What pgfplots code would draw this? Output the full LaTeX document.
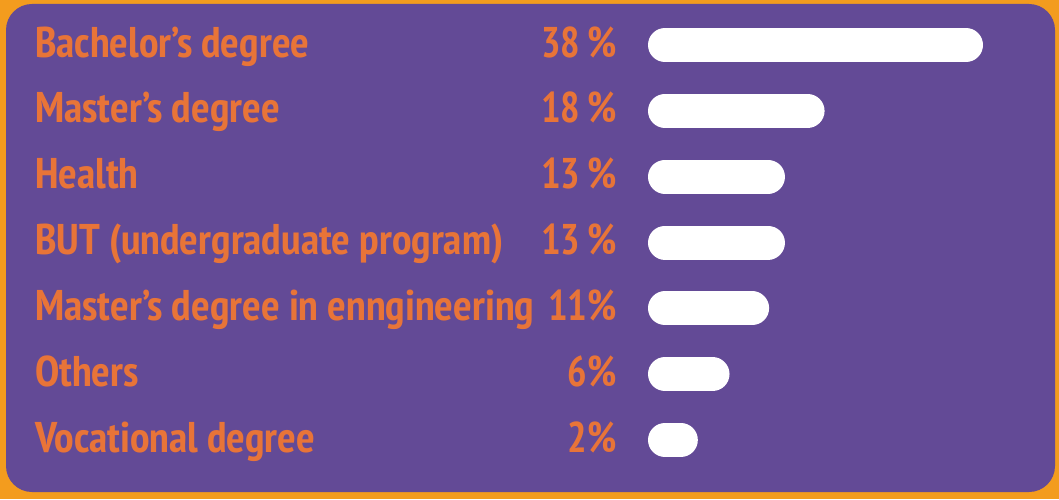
\documentclass[border=0pt]{standalone}
\usepackage{pgfplots}
\pgfplotsset{compat=1.18}
\usepackage{fontspec}
\setmainfont{PT Sans Narrow}[FakeStretch=1.02]
\newfontfamily\pctfont{PT Sans Narrow}[FakeStretch=0.95]

\definecolor{frameorange}{RGB}{243,156,30}
\definecolor{panelpurple}{RGB}{99,74,150}
\definecolor{textorange}{RGB}{232,116,56}

\begin{document}
\begin{tikzpicture}
% frame and panel, 1pt = 1px of the reference
\fill[frameorange] (0pt,0pt) rectangle (1059pt,499pt);
\fill[panelpurple, rounded corners=26pt] (6pt,7pt) rectangle (1055pt,495pt);

\begin{axis}[
    at={(665pt,59pt)}, anchor=south west,
    scale only axis, width=301pt, height=395pt,
    xmin=0, xmax=38,
    ymin=0, ymax=6, y dir=reverse,
    hide axis, clip=false,
]
% rounded bars
\addplot[xcomb, white, line width=34pt, line cap=round, mark=none]
    coordinates {(38,0)(18,1)(13,2)(13,3)(11,4)(6,5)(2,6)};
% percentages
\addplot[draw=none, mark=none, point meta=explicit symbolic, nodes near coords,
    every node near coord/.append style={anchor=base east, inner sep=0pt,
        xshift=-48pt, yshift=-12pt, text=textorange,
        font=\pctfont\fontsize{43}{43}\selectfont\bfseries}]
    coordinates {(0,0) [38\,\%] (0,1) [18\,\%] (0,2) [13\,\%] (0,3) [13\,\%]
                 (0,4) [11\%] (0,5) [6\%] (0,6) [2\%]};
% categories
\addplot[draw=none, mark=none, point meta=explicit symbolic, nodes near coords,
    every node near coord/.append style={anchor=base west, inner sep=0pt,
        xshift=-630pt, yshift=-12pt, text=textorange,
        font=\fontsize{43}{43}\selectfont\bfseries}]
    coordinates {(0,0) [Bachelor’s degree] (0,1) [Master’s degree] (0,2) [Health]
                 (0,3) [BUT (undergraduate program)]
                 (0,4) [Master’s degree in enngineering] (0,5) [Others]
                 (0,6) [Vocational degree]};
\end{axis}
\end{tikzpicture}
\end{document}
